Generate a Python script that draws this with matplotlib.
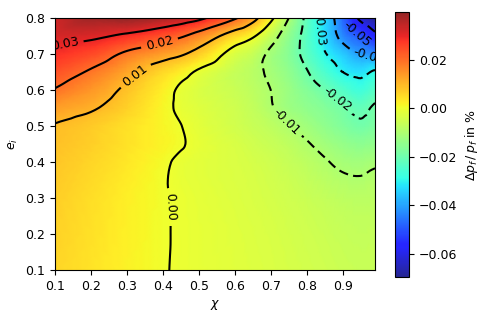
import numpy as np
import matplotlib
matplotlib.use('Agg')
import matplotlib.pyplot as plt
import matplotlib.tri as mtri
from matplotlib.colors import ListedColormap

# grid nodes
chi = [0.10, 0.20, 0.30, 0.40, 0.45, 0.50, 0.60, 0.65, 0.70, 0.75, 0.80, 0.85, 0.90, 0.95, 0.99]
ecc = [0.10, 0.20, 0.30, 0.40, 0.45, 0.50, 0.55, 0.60, 0.65, 0.70, 0.75, 0.80]

# delta p_f / p_f (in %) along each e_i row
dp_e010 = [0.0060, 0.0040, 0.0021, 0.0003, -0.0005, -0.0011, -0.0021, -0.0026, -0.0032, -0.0038, -0.0044, -0.0050, -0.0056, -0.0060, -0.0060]
dp_e020 = [0.0065, 0.0044, 0.0023, 0.0004, -0.0005, -0.0012, -0.0023, -0.0029, -0.0035, -0.0042, -0.0049, -0.0056, -0.0063, -0.0067, -0.0066]
dp_e030 = [0.0070, 0.0048, 0.0025, 0.0004, -0.0006, -0.0014, -0.0027, -0.0034, -0.0041, -0.0049, -0.0058, -0.0067, -0.0076, -0.0080, -0.0078]
dp_e040 = [0.0080, 0.0060, 0.0035, 0.0008, -0.0009, -0.0018, -0.0032, -0.0040, -0.0050, -0.0063, -0.0078, -0.0095, -0.0112, -0.0118, -0.0108]
dp_e045 = [0.0088, 0.0068, 0.0042, 0.0018, 0.0004, -0.0012, -0.0035, -0.0048, -0.0060, -0.0075, -0.0095, -0.0118, -0.0138, -0.0150, -0.0142]
dp_e050 = [0.0096, 0.0075, 0.0045, 0.0015, 0.0001, -0.0018, -0.0045, -0.0060, -0.0075, -0.0097, -0.0120, -0.0145, -0.0170, -0.0190, -0.0175]
dp_e055 = [0.0135, 0.0108, 0.0065, 0.0015, -0.0010, -0.0025, -0.0050, -0.0068, -0.0095, -0.0125, -0.0145, -0.0165, -0.0190, -0.0215, -0.0190]
dp_e060 = [0.0195, 0.0145, 0.0085, 0.0025, -0.0010, -0.0030, -0.0058, -0.0076, -0.0100, -0.0130, -0.0165, -0.0200, -0.0240, -0.0270, -0.0235]
dp_e065 = [0.0240, 0.0190, 0.0125, 0.0055, 0.0025, -0.0010, -0.0062, -0.0082, -0.0112, -0.0145, -0.0195, -0.0250, -0.0300, -0.0320, -0.0290]
dp_e070 = [0.0285, 0.0250, 0.0185, 0.0135, 0.0110, 0.0070, -0.0030, -0.0060, -0.0115, -0.0160, -0.0225, -0.0293, -0.0350, -0.0405, -0.0430]
dp_e075 = [0.0320, 0.0315, 0.0285, 0.0240, 0.0210, 0.0165, 0.0055, 0.0010, -0.0065, -0.0145, -0.0230, -0.0325, -0.0430, -0.0500, -0.0570]
dp_e080 = [0.0330, 0.0380, 0.0395, 0.0370, 0.0350, 0.0320, 0.0210, 0.0130, 0.0020, -0.0100, -0.0220, -0.0330, -0.0470, -0.0620, -0.0690]

levels = [-0.06, -0.05, -0.04, -0.03, -0.02, -0.01, 0.00, 0.01, 0.02, 0.03]
cbar_ticks = [-0.06, -0.04, -0.02, 0.00, 0.02]

Z = np.array([dp_e010, dp_e020, dp_e030, dp_e040, dp_e045, dp_e050,
              dp_e055, dp_e060, dp_e065, dp_e070, dp_e075, dp_e080])
X, Y = np.meshgrid(chi, ecc)

tri = mtri.Triangulation(X.ravel(), Y.ravel())
interp = mtri.CubicTriInterpolator(tri, Z.ravel(), kind='geom')
refiner = mtri.UniformTriRefiner(tri)
tri_f, z_f = refiner.refine_field(Z.ravel(), triinterpolator=interp, subdiv=3)

# jet, a bit washed out like the original
jet = plt.get_cmap('jet')(np.linspace(0, 1, 256))
jet[:, :3] = jet[:, :3] * 0.85 + 0.15
soft_jet = ListedColormap(jet)

fig = plt.figure(figsize=(4.85, 3.23), dpi=100)
ax = fig.add_axes([55/485, 53/323, 320/485, 252/323])
cax = fig.add_axes([395/485, 46/323, 14/485, 265/323])

pc = ax.tripcolor(tri_f, z_f, cmap=soft_jet, shading='gouraud',
                  vmin=-0.0695, vmax=0.0397)
cs = ax.tricontour(tri_f, z_f, levels=levels, colors='k', linewidths=1.5)
cs.set_linestyle([(0, (4.5, 2.5)) if lev < 0 else 'solid' for lev in cs.levels])
ax.clabel(cs, fmt='%.2f', fontsize=9, inline=True,
          manual=[(0.128, 0.725), (0.39, 0.733), (0.322, 0.642), (0.42, 0.275),
                  (0.747, 0.517), (0.883, 0.572), (0.836, 0.767), (0.975, 0.703),
                  (0.933, 0.744)])

ax.set_xlim(0.1, 0.99)
ax.set_ylim(0.1, 0.8)
ax.set_xticks([0.1, 0.2, 0.3, 0.4, 0.5, 0.6, 0.7, 0.8, 0.9])
ax.set_yticks([0.1, 0.2, 0.3, 0.4, 0.5, 0.6, 0.7, 0.8])
ax.tick_params(labelsize=9)
ax.set_xlabel(r'$\chi$', fontsize=9)
ax.set_ylabel(r'$e_i$', fontsize=9)

cb = fig.colorbar(pc, cax=cax, ticks=cbar_ticks)
cb.ax.tick_params(labelsize=9)
cb.set_label(r'$\Delta p_f\,/\,p_f$ in %', fontsize=9)

fig.savefig('out.png', dpi=100)
